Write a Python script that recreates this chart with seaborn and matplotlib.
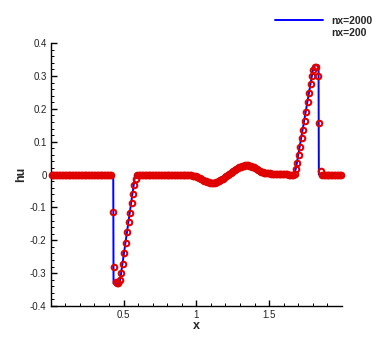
import numpy as np
import pandas as pd
import seaborn as sns
import matplotlib
matplotlib.use("Agg")
import matplotlib.pyplot as plt
from matplotlib.lines import Line2D

x_fine = [0.0, 0.429, 0.431, 0.468, 0.476, 0.578, 0.590, 0.90, 0.95, 1.00,
          1.05, 1.10, 1.15, 1.20, 1.25, 1.30, 1.35, 1.40, 1.45, 1.50,
          1.60, 1.66, 1.672, 1.685, 1.800, 1.808, 1.815, 1.840, 1.842, 2.0]
hu_fine = [0.0, 0.0, -0.331, -0.332, -0.322, -0.006, 0.0, 0.0, -0.001, -0.006,
           -0.018, -0.026, -0.022, -0.006, 0.011, 0.023, 0.028, 0.021, 0.008, 0.004,
           0.002, -0.002, 0.0, 0.020, 0.315, 0.328, 0.332, 0.332, 0.0, 0.0]

# coarse solution (nx=200), one value per cell
hu_coarse = [
    0, 0, 0, 0, 0, 0, 0, 0, 0, 0,
    0, 0, 0, 0, 0, 0, 0, 0, 0, 0,
    0, 0, 0, 0, 0, 0, 0, 0, 0, 0,
    0, 0, 0, 0, 0, 0, 0, 0, 0, 0,
    0, 0, -0.113, -0.281, -0.327, -0.331, -0.329, -0.320, -0.299, -0.271,
    -0.240, -0.208, -0.176, -0.145, -0.116, -0.086, -0.058, -0.032, -0.012, -0.002,
    0, 0, 0, 0, 0, 0, 0, 0, 0, 0,
    0, 0, 0, 0, 0, 0, 0, 0, 0, 0,
    0, 0, 0, 0, 0, 0, 0, 0, 0, 0,
    0, 0, 0, 0, -0.001, -0.001, -0.002, -0.003, -0.004, -0.005,
    -0.007, -0.009, -0.011, -0.014, -0.016, -0.019, -0.021, -0.023, -0.024, -0.025,
    -0.026, -0.026, -0.025, -0.024, -0.023, -0.021, -0.018, -0.015, -0.012, -0.008,
    -0.005, -0.001, 0.002, 0.006, 0.009, 0.012, 0.015, 0.018, 0.020, 0.022,
    0.024, 0.026, 0.027, 0.028, 0.028, 0.028, 0.027, 0.026, 0.024, 0.022,
    0.019, 0.017, 0.014, 0.011, 0.009, 0.007, 0.006, 0.005, 0.004, 0.004,
    0.004, 0.003, 0.003, 0.003, 0.003, 0.003, 0.003, 0.002, 0.002, 0.002,
    0.002, 0.001, 0.001, 0.000, -0.001, -0.002, -0.002, 0.002, 0.016, 0.035,
    0.059, 0.084, 0.110, 0.136, 0.163, 0.191, 0.220, 0.248, 0.276, 0.301,
    0.318, 0.328, 0.327, 0.299, 0.156, 0.012, 0, 0, 0, 0,
    0, 0, 0, 0, 0, 0, 0, 0, 0, 0,
]
x_coarse = np.linspace(0.005, 1.995, len(hu_coarse))  # cell centres

labels = ["nx=2000", "nx=200"]
x_ticks = [0.5, 1, 1.5]
y_ticks = [-0.4, -0.3, -0.2, -0.1, 0, 0.1, 0.2, 0.3, 0.4]

sns.set_style("ticks")
plt.rcParams["font.family"] = ["Liberation Sans", "DejaVu Sans"]

fig = plt.figure(figsize=(3.88, 3.45), dpi=100)
ax = fig.add_axes([0.131, 0.113, 0.750, 0.762])

df_f = pd.DataFrame({"x": x_fine, "hu": hu_fine})
df_c = pd.DataFrame({"x": x_coarse, "hu": hu_coarse})

sns.lineplot(data=df_f, x="x", y="hu", ax=ax, color="blue", lw=1.4,
             sort=False, estimator=None, zorder=2)
sns.lineplot(data=df_c, x="x", y="hu", ax=ax, linestyle="", marker="o",
             markersize=4.0, markerfacecolor="none", markeredgecolor="#e00000",
             markeredgewidth=1.5, sort=False, estimator=None, zorder=3,
             clip_on=False)

ax.set_xlim(0, 2)
ax.set_ylim(-0.4, 0.4)
ax.set_xticks(x_ticks)
ax.set_xticklabels(["0.5", "1", "1.5"])
ax.set_yticks(y_ticks)
ax.set_yticklabels(["-0.4", "-0.3", "-0.2", "-0.1", "0", "0.1", "0.2", "0.3", "0.4"])
ax.set_xticks(np.arange(0.1, 2.0, 0.1), minor=True)
ax.set_yticks(np.arange(-0.38, 0.4, 0.02), minor=True)
ax.tick_params(which="major", direction="in", length=4.5, width=1.0,
               labelsize=7, pad=3, color="black", labelcolor="#222222")
ax.tick_params(which="minor", direction="in", length=2.2, width=0.7, color="black")
for s in ["top", "right"]:
    ax.spines[s].set_visible(False)
for s in ["left", "bottom"]:
    ax.spines[s].set_linewidth(1.0)
    ax.spines[s].set_color("black")

ax.set_xlabel("x", fontsize=9, fontweight="bold", labelpad=0)
ax.set_ylabel("hu", fontsize=9, fontweight="bold", labelpad=2)

handles = [Line2D([], [], color="blue", lw=1.4),
           Line2D([], [], color="none", lw=0)]
leg = fig.legend(handles, labels, loc="upper left", bbox_to_anchor=(0.709, 0.955),
                 bbox_transform=fig.transFigure, frameon=False, borderpad=0,
                 borderaxespad=0, handlelength=4.6, handletextpad=0.8,
                 labelspacing=0.2, prop={"size": 7.5, "weight": "bold"})

fig.savefig("out.png", dpi=100)
